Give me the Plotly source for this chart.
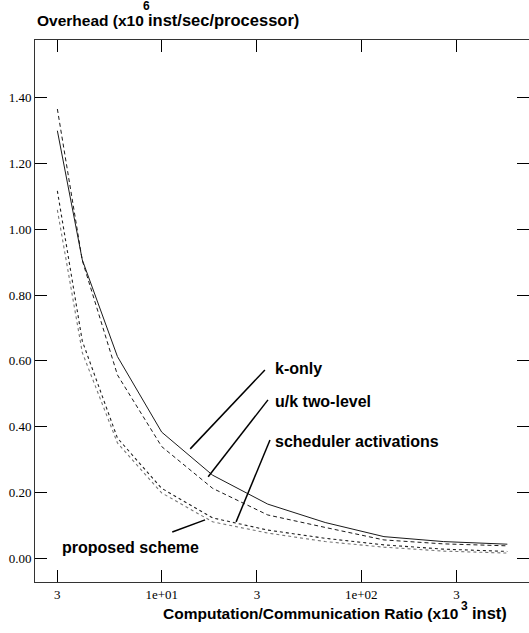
import math
import plotly.graph_objects as go

# ---- data ----
ratio = [3, 4, 6, 10, 18, 34, 66, 130, 258, 540]  # x10^3 inst
k_only = [1.30, 0.907, 0.613, 0.383, 0.252, 0.164, 0.108, 0.065, 0.050, 0.042]
uk_two_level = [1.366, 0.905, 0.557, 0.339, 0.212, 0.131, 0.093, 0.055, 0.043, 0.037]
sched_act = [1.117, 0.66, 0.365, 0.212, 0.122, 0.085, 0.060, 0.040, 0.027, 0.020]
proposed = [1.059, 0.625, 0.350, 0.198, 0.110, 0.076, 0.050, 0.033, 0.021, 0.015]

x_tickvals = [3, 10, 30, 100, 300]
x_ticktext = ["3", "1e+01", "3", "1e+02", "3"]
y_tickvals = [0.0, 0.2, 0.4, 0.6, 0.8, 1.0, 1.2, 1.4]

# label text, label anchor (data coords), leader line (data coords)
labels = [
    ("k-only", 36.1, 0.578, (32.9, 0.572), (13.9, 0.332)),
    ("u/k two-level", 36.1, 0.475, (34.1, 0.481), (17.1, 0.247)),
    ("scheduler activations", 36.1, 0.353, (34.9, 0.359), (23.6, 0.110)),
    ("proposed scheme", 3.09, 0.033, (11.3, 0.079), (16.5, 0.116)),
]

SANS = "Liberation Sans, Arial, Helvetica, sans-serif"
SERIF = "Liberation Serif, Times New Roman, serif"

fig = go.Figure()
fig.add_trace(go.Scatter(x=ratio, y=k_only, mode="lines", name="k-only",
                         line=dict(color="#1a1a1a", width=1, dash="solid")))
fig.add_trace(go.Scatter(x=ratio, y=uk_two_level, mode="lines", name="u/k two-level",
                         line=dict(color="#1a1a1a", width=1, dash="4px,3px")))
fig.add_trace(go.Scatter(x=ratio, y=sched_act, mode="lines", name="scheduler activations",
                         line=dict(color="#222222", width=1.1, dash="dot")))
fig.add_trace(go.Scatter(x=ratio, y=proposed, mode="lines", name="proposed scheme",
                         line=dict(color="#777777", width=1.1, dash="dot")))

shapes = []
annotations = []
for text, lx, ly, p0, p1 in labels:
    shapes.append(dict(type="line", xref="x", yref="y",
                       x0=p0[0], y0=p0[1], x1=p1[0], y1=p1[1],
                       line=dict(color="black", width=1.5)))
    annotations.append(dict(text="<b>" + text + "</b>", x=math.log10(lx), y=ly,
                            xref="x", yref="y",
                            xanchor="left", yanchor="middle", showarrow=False,
                            font=dict(family=SANS, size=16, color="black")))

# titles
annotations += [
    dict(text="<b>Overhead (x10</b>", x=0.0, y=1.036, xref="paper", yref="paper",
         xanchor="left", yanchor="middle", showarrow=False,
         font=dict(family=SANS, size=15.5, color="black")),
    dict(text="<b>6</b>", x=0.2267, y=1.063, xref="paper", yref="paper",
         xanchor="center", yanchor="middle", showarrow=False,
         font=dict(family=SANS, size=12, color="black")),
    dict(text="<b>inst/sec/processor)</b>", x=0.2247, y=1.036, xref="paper", yref="paper",
         xanchor="left", yanchor="middle", showarrow=False,
         font=dict(family=SANS, size=16.5, color="black")),
    dict(text="<b>Computation/Communication Ratio (x10</b>", x=0.8603, y=-0.058,
         xref="paper", yref="paper", xanchor="right", yanchor="middle", showarrow=False,
         font=dict(family=SANS, size=15.5, color="black")),
    dict(text="<b>3</b>", x=0.8704, y=-0.044, xref="paper", yref="paper",
         xanchor="center", yanchor="middle", showarrow=False,
         font=dict(family=SANS, size=12, color="black")),
    dict(text="<b>inst)</b>", x=0.8806, y=-0.058, xref="paper", yref="paper",
         xanchor="left", yanchor="middle", showarrow=False,
         font=dict(family=SANS, size=16.5, color="black")),
]

fig.update_layout(
    width=529, height=633,
    margin=dict(l=35, r=0, t=40, b=51, autoexpand=False),
    paper_bgcolor="white", plot_bgcolor="white",
    showlegend=False,
    shapes=shapes, annotations=annotations,
)
fig.update_xaxes(
    type="log", range=[0.365, 2.841], automargin=False,
    tickvals=x_tickvals, ticktext=x_ticktext,
    ticks="inside", ticklen=12, tickwidth=1, tickcolor="black",
    showline=True, linecolor="#333333", linewidth=1, mirror="allticks",
    showgrid=False, zeroline=False,
    tickfont=dict(family=SERIF, size=13, color="black"),
)
fig.update_yaxes(
    range=[-0.073, 1.576], automargin=False,
    tickvals=y_tickvals, tickformat=".2f",
    ticks="inside", ticklen=12, tickwidth=1, tickcolor="black",
    showline=True, linecolor="#333333", linewidth=1, mirror="allticks",
    showgrid=False, zeroline=False,
    tickfont=dict(family=SERIF, size=13, color="black"),
)

fig.write_html(
    "out.html",
    config={"displayModeBar": False},
    post_script="document.body.style.margin='0';document.body.style.overflow='hidden';",
)
